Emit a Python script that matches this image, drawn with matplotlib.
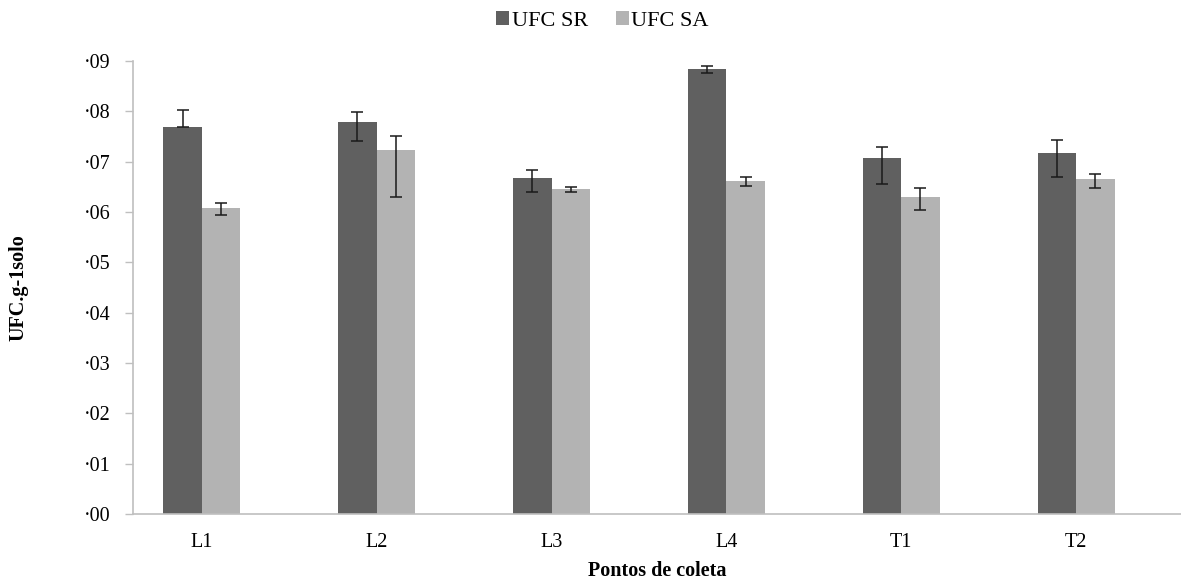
import matplotlib
matplotlib.use("Agg")
import matplotlib.pyplot as plt
import numpy as np

categories = ["L1", "L2", "L3", "L4", "T1", "T2"]
sr_values = [7.69, 7.79, 6.67, 8.84, 7.07, 7.18]
sr_upper = [8.03, 7.98, 6.84, 8.90, 7.30, 7.43]
sr_lower = [7.69, 7.42, 6.40, 8.77, 6.55, 6.70]
sa_values = [6.07, 7.23, 6.46, 6.62, 6.30, 6.65]
sa_upper = [6.17, 7.51, 6.50, 6.70, 6.48, 6.76]
sa_lower = [5.95, 6.30, 6.40, 6.52, 6.03, 6.48]
ytick_values = [0, 1, 2, 3, 4, 5, 6, 7, 8, 9]
ytick_labels = ["·00", "·01", "·02", "·03", "·04", "·05", "·06", "·07", "·08", "·09"]
series_names = ["UFC SR", "UFC SA"]

plt.rcParams['font.family'] = ['Liberation Serif', 'DejaVu Serif']

fig = plt.figure(figsize=(11.81, 5.8), dpi=100)
ax = fig.add_axes([0.1126, 0.1138, 0.8874, 0.781])

x = np.arange(len(categories))
w = 0.22
sr = np.array(sr_values); sa = np.array(sa_values)
sr_err = [sr - np.array(sr_lower), np.array(sr_upper) - sr]
sa_err = [sa - np.array(sa_lower), np.array(sa_upper) - sa]

ax.bar(x - w/2, sr, w, color="#606060", label=series_names[0], zorder=2)
ax.bar(x + w/2, sa, w, color="#b3b3b3", label=series_names[1], zorder=2)
ax.errorbar(x - w/2, sr, yerr=sr_err, fmt="none", ecolor="#1a1a1a", elinewidth=1.1, capsize=4, capthick=1.1, zorder=3)
ax.errorbar(x + w/2, sa, yerr=sa_err, fmt="none", ecolor="#1a1a1a", elinewidth=1.1, capsize=4, capthick=1.1, zorder=3)

ax.set_xlim(-0.394, len(categories) - 0.4)
ax.set_ylim(0, 9)
ax.set_yticks(ytick_values)
ax.set_yticklabels(ytick_labels, fontsize=14.5)
ax.set_xticks(x)
ax.set_xticklabels(categories, fontsize=14.5)
ax.tick_params(axis='x', length=0, pad=14)
ax.tick_params(axis='y', length=6, color="#bfbfbf", width=1, pad=10)

for s in ["top", "right"]:
    ax.spines[s].set_visible(False)
for s in ["left", "bottom"]:
    ax.spines[s].set_color("#bfbfbf")
    ax.spines[s].set_linewidth(1.2)

ax.set_xlabel("Pontos de coleta", fontsize=14.5, fontweight="bold", labelpad=6)
ax.set_ylabel("UFC.g-1solo", fontsize=14.5, fontweight="bold", labelpad=40)

fig.legend(loc="upper center", bbox_to_anchor=(0.51, 1.015), ncol=2, frameon=False,
           fontsize=16, handlelength=0.6, handleheight=0.6, handletextpad=0.1,
           columnspacing=1.25)

fig.savefig("out.png", dpi=100)
